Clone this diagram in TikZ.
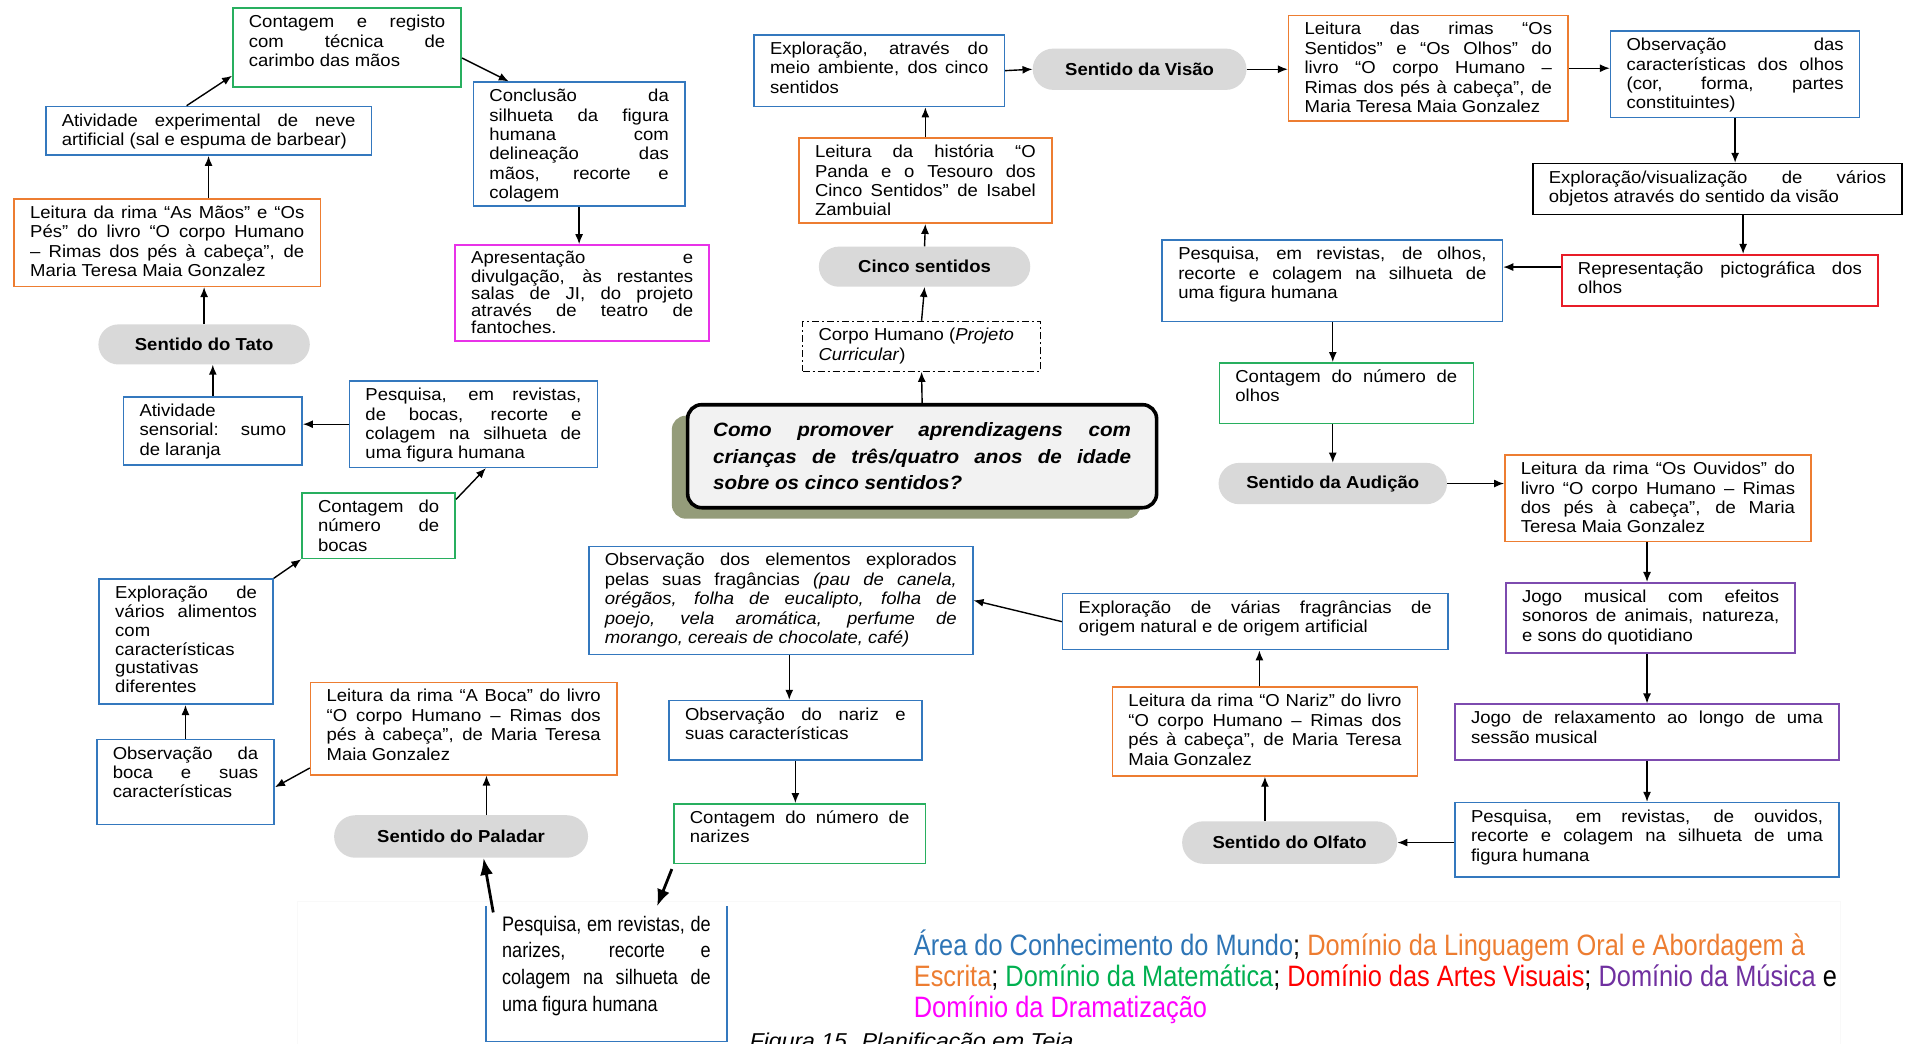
\documentclass[tikz,border=0pt]{standalone}
\usepackage{fontspec}
\setmainfont{Liberation Sans}[FakeStretch=1.07]
\newfontfamily\narrowfont{Liberation Sans}[FakeStretch=0.86]
\usetikzlibrary{shapes.misc,calc,arrows.meta,shadows}
\definecolor{cblue}{RGB}{52,120,190}
\definecolor{corange}{RGB}{237,125,49}
\definecolor{cgreen}{RGB}{40,175,95}
\definecolor{cred}{RGB}{232,28,40}
\definecolor{cpurple}{RGB}{125,75,175}
\definecolor{cmag}{RGB}{232,50,232}
\definecolor{pillg}{RGB}{217,217,217}
\definecolor{qfill}{RGB}{242,242,242}
\definecolor{qshadow}{RGB}{148,156,122}
\definecolor{lblue}{RGB}{46,117,182}
\definecolor{lorange}{RGB}{237,125,49}
\definecolor{lgreen}{RGB}{0,176,80}
\definecolor{lred}{RGB}{255,0,0}
\definecolor{lpurple}{RGB}{112,48,160}
\definecolor{lmag}{RGB}{255,0,255}
\newcommand\bodyfont{\fontsize{17.3}{19.4}\selectfont}
\newcommand\padx{16}
\newcommand\pady{6}
\newcommand\jl[1]{\makebox[\hsize][s]{#1}\\}
\newcommand\mkbox[7]{%
  \pgfmathsetmacro\bw{(#5-#3)*1.215-2*\padx}%
  \pgfmathsetmacro\bh{(#6-#4)*1.215-2*\pady}%
  \node[#2, inner xsep=\padx pt, inner ysep=\pady pt, anchor=north west] (#1) at (#3,#4)
    {\parbox[c][\bh pt][t]{\bw pt}{\strut #7}};%
}
\newcommand\mkpill[6]{%
  \pgfmathsetmacro\pw{(#4-#2)*1.215}%
  \pgfmathsetmacro\ph{(#5-#3)*1.215}%
  \node[pill, minimum width=\pw pt, minimum height=\ph pt] (#1) at ({(#2+#4)/2},{(#3+#5)/2}) {#6};%
}
\tikzset{
  bx/.style={draw=#1, line width=1.6pt, fill=white, font=\bodyfont},
  dbox/.style={draw=black, line width=1.3pt, dash pattern=on 7pt off 3pt on 2pt off 3pt, fill=white, font=\bodyfont},
  nbx/.style={font=\narrowfont\fontsize{21}{26.7}\selectfont},
  pill/.style={rounded rectangle, fill=pillg, inner sep=0pt, font=\bodyfont\bfseries},
  arr/.style={-{Latex[length=10pt,width=8pt]}, line width=1.4pt},
  tarr/.style={-{Latex[length=17pt,width=13pt]}, line width=2.8pt}
}
\begin{document}
\begin{tikzpicture}[x=1.215pt, y=-1.215pt]
\useasboundingbox (0,0) rectangle (1568,859);
\clip (0,0) rectangle (1568,859);
\fill[white] (0,0) rectangle (1568,859);
\draw[gray!5, line width=1pt] (245,859) -- (245,742) -- (1515,742) -- (1515,859);

% ---- left: Tato
\mkbox{g1}{bx=cgreen}{191}{6}{379}{71}{\jl{Contagem e registo}\jl{com técnica de}carimbo das mãos}
\mkbox{b1}{bx=cblue}{37}{87}{305}{127}{\jl{Atividade experimental de neve}artificial (sal e espuma de barbear)}
\mkbox{o1}{bx=corange}{11}{163}{263}{235}{\jl{Leitura da rima “As Mãos” e “Os}\jl{Pés” do livro “O corpo Humano}\jl{– Rimas dos pés à cabeça”, de}Maria Teresa Maia Gonzalez}
\mkbox{b2}{bx=cblue}{389}{67}{563}{169}{\jl{Conclusão da}\jl{silhueta da figura}\jl{humana com}\jl{delineação das}\jl{mãos, recorte e}colagem}
\mkbox{m1}{bx=cmag, font=\fontsize{17.3}{17}\selectfont}{374}{201}{583}{280}{\jl{Apresentação e}\jl{divulgação, às restantes}\jl{salas de JI, do projeto}\jl{através de teatro de}fantoches.}
\mkpill{tato}{81}{267}{255}{300}{Sentido do Tato}
\mkbox{b3}{bx=cblue}{101}{326}{248}{382}{Atividade\\\jl{sensorial: sumo}de laranja}
\mkbox{b4}{bx=cblue}{287}{313}{491}{384}{\jl{Pesquisa, em revistas,}\jl{de bocas, recorte e}\jl{colagem na silhueta de}uma figura humana}
\mkbox{g2}{bx=cgreen}{248}{405}{374}{459}{\jl{Contagem do}\jl{número de}bocas}
\mkbox{b5}{bx=cblue, font=\fontsize{17.3}{18.9}\selectfont}{81}{476}{224}{579}{\jl{Exploração de}\jl{vários alimentos}com\\características\\gustativas\\diferentes}
\mkbox{b6}{bx=cblue}{79}{608}{225}{678}{\jl{Observação da}\jl{boca e suas}características}
\mkbox{o2}{bx=corange}{255}{561}{507}{637}{\jl{Leitura da rima “A Boca” do livro}\jl{“O corpo Humano – Rimas dos}\jl{pés à cabeça”, de Maria Teresa}Maia Gonzalez}
\mkpill{pal}{275}{671}{484}{706}{Sentido do Paladar}
\mkbox{b7}{nbx}{400}{746}{598}{857}{\jl{Pesquisa, em revistas, de}\jl{narizes, recorte e}\jl{colagem na silhueta de}uma figura humana}
\draw[cblue, line width=1.6pt] (b7.north west) -- (b7.south west) -- (b7.south east) -- (b7.north east);

% ---- centre
\node[draw=black, line width=3.6pt, rounded corners=14pt, fill=qfill, minimum width=469pt, minimum height=103pt, inner sep=0pt,
  drop shadow={fill=qshadow, opacity=1, shadow xshift=-15.8pt, shadow yshift=-11pt},
  font=\bfseries\itshape\fontsize{19.3}{26.7}\selectfont] (q) at (759,375.5)
  {\parbox{418pt}{\jl{Como promover aprendizagens com}\jl{crianças de três/quatro anos de idade}sobre os cinco sentidos?}};
\mkbox{d}{dbox}{660}{264}{856}{305}{Corpo Humano (\textit{Projeto}\\\textit{Curricular})}
\mkpill{cinco}{674}{203}{848}{236}{Cinco sentidos}
\mkbox{o3}{bx=corange}{657}{113}{865}{183}{\jl{Leitura da história “O}\jl{Panda e o Tesouro dos}\jl{Cinco Sentidos” de Isabel}Zambuial}
\mkbox{b8}{bx=cblue}{620}{28}{826}{87}{\jl{Exploração, através do}\jl{meio ambiente, dos cinco}sentidos}
\mkpill{vis}{850}{40}{1026}{74}{Sentido da Visão}

% ---- right: Visão / Audição
\mkbox{o4}{bx=corange}{1060}{12}{1290}{99}{\jl{Leitura das rimas “Os}\jl{Sentidos” e “Os Olhos” do}\jl{livro “O corpo Humano –}\jl{Rimas dos pés à cabeça”, de}Maria Teresa Maia Gonzalez}
\mkbox{b9}{bx=cblue}{1325}{25}{1530}{96}{\jl{Observação das}\jl{características dos olhos}\jl{(cor, forma, partes}constituintes)}
\mkbox{k1}{bx=black}{1261}{134}{1565}{176}{\jl{Exploração/visualização de vários}objetos através do sentido da visão}
\mkbox{r1}{bx=cred}{1285}{209}{1545}{251}{\jl{Representação pictográfica dos}olhos}
\mkbox{b10}{bx=cblue}{956}{197}{1236}{264}{\jl{Pesquisa, em revistas, de olhos,}\jl{recorte e colagem na silhueta de}uma figura humana}
\mkbox{g3}{bx=cgreen}{1003}{298}{1212}{348}{\jl{Contagem do número de}olhos}
\mkpill{aud}{1003}{381}{1191}{415}{Sentido da Audição}
\mkbox{o5}{bx=corange}{1238}{374}{1490}{445}{\jl{Leitura da rima “Os Ouvidos” do}\jl{livro “O corpo Humano – Rimas}\jl{dos pés à cabeça”, de Maria}Teresa Maia Gonzalez}
\mkbox{p1}{bx=cpurple}{1239}{479}{1477}{537}{\jl{Jogo musical com efeitos}\jl{sonoros de animais, natureza,}e sons do quotidiano}
\mkbox{p2}{bx=cpurple}{1197}{579}{1513}{625}{\jl{Jogo de relaxamento ao longo de uma}sessão musical}
\mkbox{b11}{bx=cblue}{1197}{660}{1513}{721}{\jl{Pesquisa, em revistas, de ouvidos,}\jl{recorte e colagem na silhueta de uma}figura humana}

% ---- Olfato
\mkpill{olf}{973}{676}{1150}{711}{Sentido do Olfato}
\mkbox{o6}{bx=corange}{915}{565}{1166}{638}{\jl{Leitura da rima “O Nariz” do livro}\jl{“O corpo Humano – Rimas dos}\jl{pés à cabeça”, de Maria Teresa}Maia Gonzalez}
\mkbox{b12}{bx=cblue}{874}{488}{1191}{534}{\jl{Exploração de várias fragrâncias de}origem natural e de origem artificial}
\mkbox{b13}{bx=cblue}{484}{449}{800}{538}{\jl{Observação dos elementos explorados}\jl{pelas suas fragâncias \textit{(pau de canela,}}\jl{\textit{orégãos, folha de eucalipto, folha de}}\jl{\textit{poejo, vela aromática, perfume de}}\textit{morango, cereais de chocolate, café)}}
\mkbox{b14}{bx=cblue}{550}{576}{758}{625}{\jl{Observação do nariz e}suas características}
\mkbox{g4}{bx=cgreen}{554}{661}{761}{710}{\jl{Contagem do número de}narizes}

% ---- connectors
\draw[arr] ($(b1.north west)!0.433!(b1.north east)$) -- ($(g1.north west)!0.85!(g1.south west)$);
\draw[arr] ($(g1.north east)!0.63!(g1.south east)$) -- ($(b2.north west)!0.17!(b2.north east)$);
\draw[arr] (o1.north -| b1.south) -- (b1.south);
\draw[arr] (tato.north) -- (tato.north |- o1.south);
\draw[arr] (b2.south) -- (b2.south |- m1.north);
\draw[arr] (b3.north) -- (b3.north |- tato.south);
\draw[arr] (b4.west) -- (b4.west -| b3.east);
\draw[arr] ($(g2.north east)!0.11!(g2.south east)$) -- ($(b4.south west)!0.55!(b4.south east)$);
\draw[arr] (b5.north east) -- (g2.south west);
\draw[arr] (b6.north) -- (b6.north |- b5.south);
\draw[arr] ($(o2.north west)!0.92!(o2.south west)$) -- ($(b6.north east)!0.56!(b6.south east)$);
\coordinate (pa) at ($(o2.south west)!0.574!(o2.south east)$);
\draw[arr] (pa |- pal.north) -- (pa);
\draw[tarr] ($(b7.north west)+(6,5)$) -- ($(pal.south)+(18.5,0)$);
\draw[tarr] ($(g4.south west)+(-1,4)$) -- ($(b7.north west)!0.71!(b7.north east)$);
\coordinate (nx) at ($(b14.north west)!0.476!(b14.north east)$);
\draw[arr] (nx |- b13.south) -- (nx);
\draw[arr] (b14.south) -- (b14.south |- g4.north);
\draw[arr] (b12.west) -- (b13.east);
\coordinate (ox) at ($(o6.north west)!0.482!(o6.north east)$);
\draw[arr] (ox) -- (ox |- b12.south);
\draw[arr] (olf.north -| o6.south) -- (o6.south);
\draw[arr] (b11.west |- olf.east) -- (olf.east);
\draw[arr] (p2.south) -- (b11.north);
\draw[arr] (p2.north |- p1.south) -- (p2.north);
\draw[arr] (p2.north |- o5.south) -- (p2.north |- p1.north);
\draw[arr] (aud.east) -- (aud.east -| o5.west);
\draw[arr] (aud.north |- g3.south) -- (aud.north);
\draw[arr] (aud.north |- b10.south) -- (aud.north |- g3.north);
\coordinate (ry) at ($(r1.north west)!0.25!(r1.south west)$);
\draw[arr] (ry) -- (ry -| b10.east);
\coordinate (kx) at ($(r1.north west)!0.573!(r1.north east)$);
\draw[arr] (kx |- k1.south) -- (kx);
\draw[arr] (b9.south) -- (b9.south |- k1.north);
\draw[arr] (o4.east) -- (o4.east -| b9.west);
\draw[arr] (vis.east) -- (vis.east -| o4.west);
\draw[arr] (b8.east) -- (vis.west);
\draw[arr] (o3.north) -- (o3.north |- b8.south);
\draw[arr] (cinco.north) -- (o3.south);
\draw[arr] (d.north) -- (cinco.south);
\draw[arr] (q.north) -- (d.south);

% ---- legend and caption
\node[anchor=north west, inner sep=0pt, align=left, font=\narrowfont\fontsize{29.5}{31}\selectfont] (leg) at (752,763.8)
 {\rule{0pt}{27pt}\textcolor{lblue}{Área do Conhecimento do Mundo}; \textcolor{lorange}{Domínio da Linguagem Oral e Abordagem à}\\
  \textcolor{lorange}{Escrita}; \textcolor{lgreen}{Domínio da Matemática}; \textcolor{lred}{Domínio das Artes Visuais}; \textcolor{lpurple}{Domínio da Música} e\\
  \textcolor{lmag}{Domínio da Dramatização}};
\node[anchor=north west, inner sep=0pt, font=\fontsize{21.5}{24}\selectfont\itshape] (cap) at (617,850)
 {\rule{0pt}{15.4pt}Figura 15. Planificação em Teia};
\end{tikzpicture}
\end{document}
